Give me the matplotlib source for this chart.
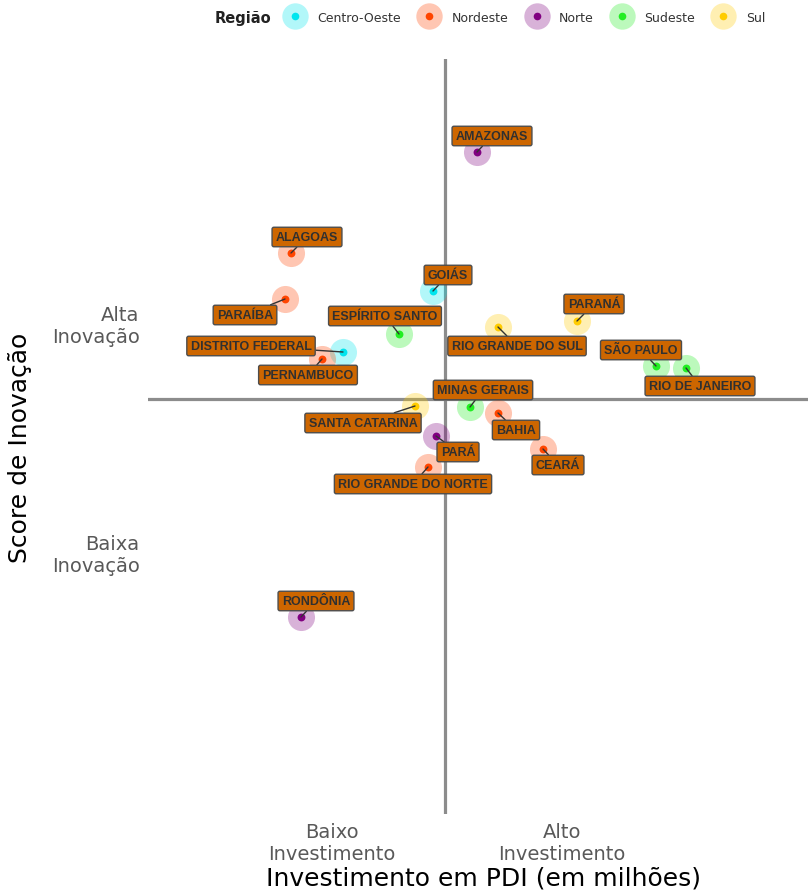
import matplotlib.pyplot as plt
from matplotlib.lines import Line2D

# estados, regiao, investimento (x) e score de inovacao (y), centrados na media
estados = ["AMAZONAS", "ALAGOAS", "PARAÍBA", "GOIÁS", "ESPÍRITO SANTO",
           "DISTRITO FEDERAL", "PERNAMBUCO", "RIO GRANDE DO SUL", "PARANÁ",
           "SÃO PAULO", "RIO DE JANEIRO", "MINAS GERAIS", "SANTA CATARINA",
           "BAHIA", "PARÁ", "CEARÁ", "RIO GRANDE DO NORTE", "RONDÔNIA"]
regiao = ["Norte", "Nordeste", "Nordeste", "Centro-Oeste", "Sudeste",
          "Centro-Oeste", "Nordeste", "Sul", "Sul",
          "Sudeste", "Sudeste", "Sudeste", "Sul",
          "Nordeste", "Norte", "Nordeste", "Nordeste", "Norte"]
investimento = [0.32, -1.54, -1.60, -0.12, -0.46, -1.02, -1.23, 0.53, 1.32,
                2.11, 2.41, 0.25, -0.30, 0.53, -0.09, 0.98, -0.17, -1.44]
score = [2.47, 1.46, 1.00, 1.08, 0.65, 0.47, 0.40, 0.72, 0.78,
         0.33, 0.31, -0.08, -0.07, -0.14, -0.37, -0.50, -0.68, -2.18]

regioes = ["Centro-Oeste", "Nordeste", "Norte", "Sudeste", "Sul"]
cores = {"Centro-Oeste": "#00E5EE", "Nordeste": "#FF4500", "Norte": "#800080",
         "Sudeste": "#22EE22", "Sul": "#FFCC00"}

x_ticks = [-1.13, 1.17]
x_labels = ["Baixo\nInvestimento", "Alto\nInvestimento"]
y_ticks = [0.77, -1.52]
y_labels = ["Alta\nInovação", "Baixa\nInovação"]

# deslocamento dos rotulos (pixels)
offsets = {
    "AMAZONAS": (15, 16), "ALAGOAS": (16, 16), "PARAÍBA": (-40, -16),
    "GOIÁS": (15, 16), "ESPÍRITO SANTO": (-14, 18), "DISTRITO FEDERAL": (-92, 6),
    "PERNAMBUCO": (-14, -16), "RIO GRANDE DO SUL": (19, -19), "PARANÁ": (17, 17),
    "SÃO PAULO": (-15, 16), "RIO DE JANEIRO": (14, -18), "MINAS GERAIS": (13, 17),
    "SANTA CATARINA": (-52, -17), "BAHIA": (18, -17), "PARÁ": (22, -16),
    "CEARÁ": (15, -16), "RIO GRANDE DO NORTE": (-15, -17), "RONDÔNIA": (15, 16),
}

fig = plt.figure(figsize=(8.1, 8.95), dpi=100)
ax = fig.add_axes([148 / 810, 1 - 815 / 895, 660 / 810, 755 / 895])
ax.set_xlim(-2.97, 3.63)
ax.set_ylim(-4.15, 3.40)

ax.axvline(0, color="#8c8c8c", lw=2.3, zorder=1)
ax.axhline(0, color="#8c8c8c", lw=2.3, zorder=1)

for nome, reg, x, y in zip(estados, regiao, investimento, score):
    c = cores[reg]
    ax.scatter(x, y, s=380, color=c, alpha=0.3, lw=0, zorder=2)
    ax.scatter(x, y, s=32, color=c, lw=0, zorder=3)
    ax.annotate(nome, xy=(x, y), xytext=offsets[nome], textcoords="offset pixels",
                ha="center", va="center", fontsize=9, fontweight="bold",
                family="Liberation Sans", color="#303030", zorder=4,
                bbox=dict(boxstyle="round,pad=0.3,rounding_size=0.15",
                          fc="#CD6600", ec="#4d4d4d", lw=1),
                arrowprops=dict(arrowstyle="-", color="#333333", lw=1,
                                shrinkA=0, shrinkB=0))

ax.set_xticks(x_ticks)
ax.set_xticklabels(x_labels, fontsize=14, color="#595959", linespacing=1.2)
ax.set_yticks(y_ticks)
ax.set_yticklabels(y_labels, fontsize=14, color="#595959", linespacing=1.2)
ax.tick_params(length=0, pad=6)
for s in ax.spines.values():
    s.set_visible(False)

ax.set_xlabel("Investimento em PDI (em milhões)", fontsize=18)
ax.set_ylabel("Score de Inovação", fontsize=18)
ax.xaxis.set_label_coords(0.508, -0.068)
ax.yaxis.set_label_coords(-0.176, 0.486)

# legenda
handles = [(Line2D([], [], ls="", marker="o", ms=19, mfc=cores[r], mec="none", alpha=0.3),
            Line2D([], [], ls="", marker="o", ms=5.5, mfc=cores[r], mec="none"))
           for r in regioes]
fig.text(215 / 810, 1 - 18 / 895, "Região", fontsize=10.5, fontweight="bold",
         va="center", ha="left", color="#222222")
fig.legend(handles, regioes, loc="center left", bbox_to_anchor=(280 / 810, 1 - 18 / 895),
           borderaxespad=0, ncol=5, frameon=False, fontsize=9, handlelength=1.6,
           columnspacing=1.45, handletextpad=1.0, labelcolor="#333333")

fig.savefig("out.png", dpi=100, facecolor="white")
